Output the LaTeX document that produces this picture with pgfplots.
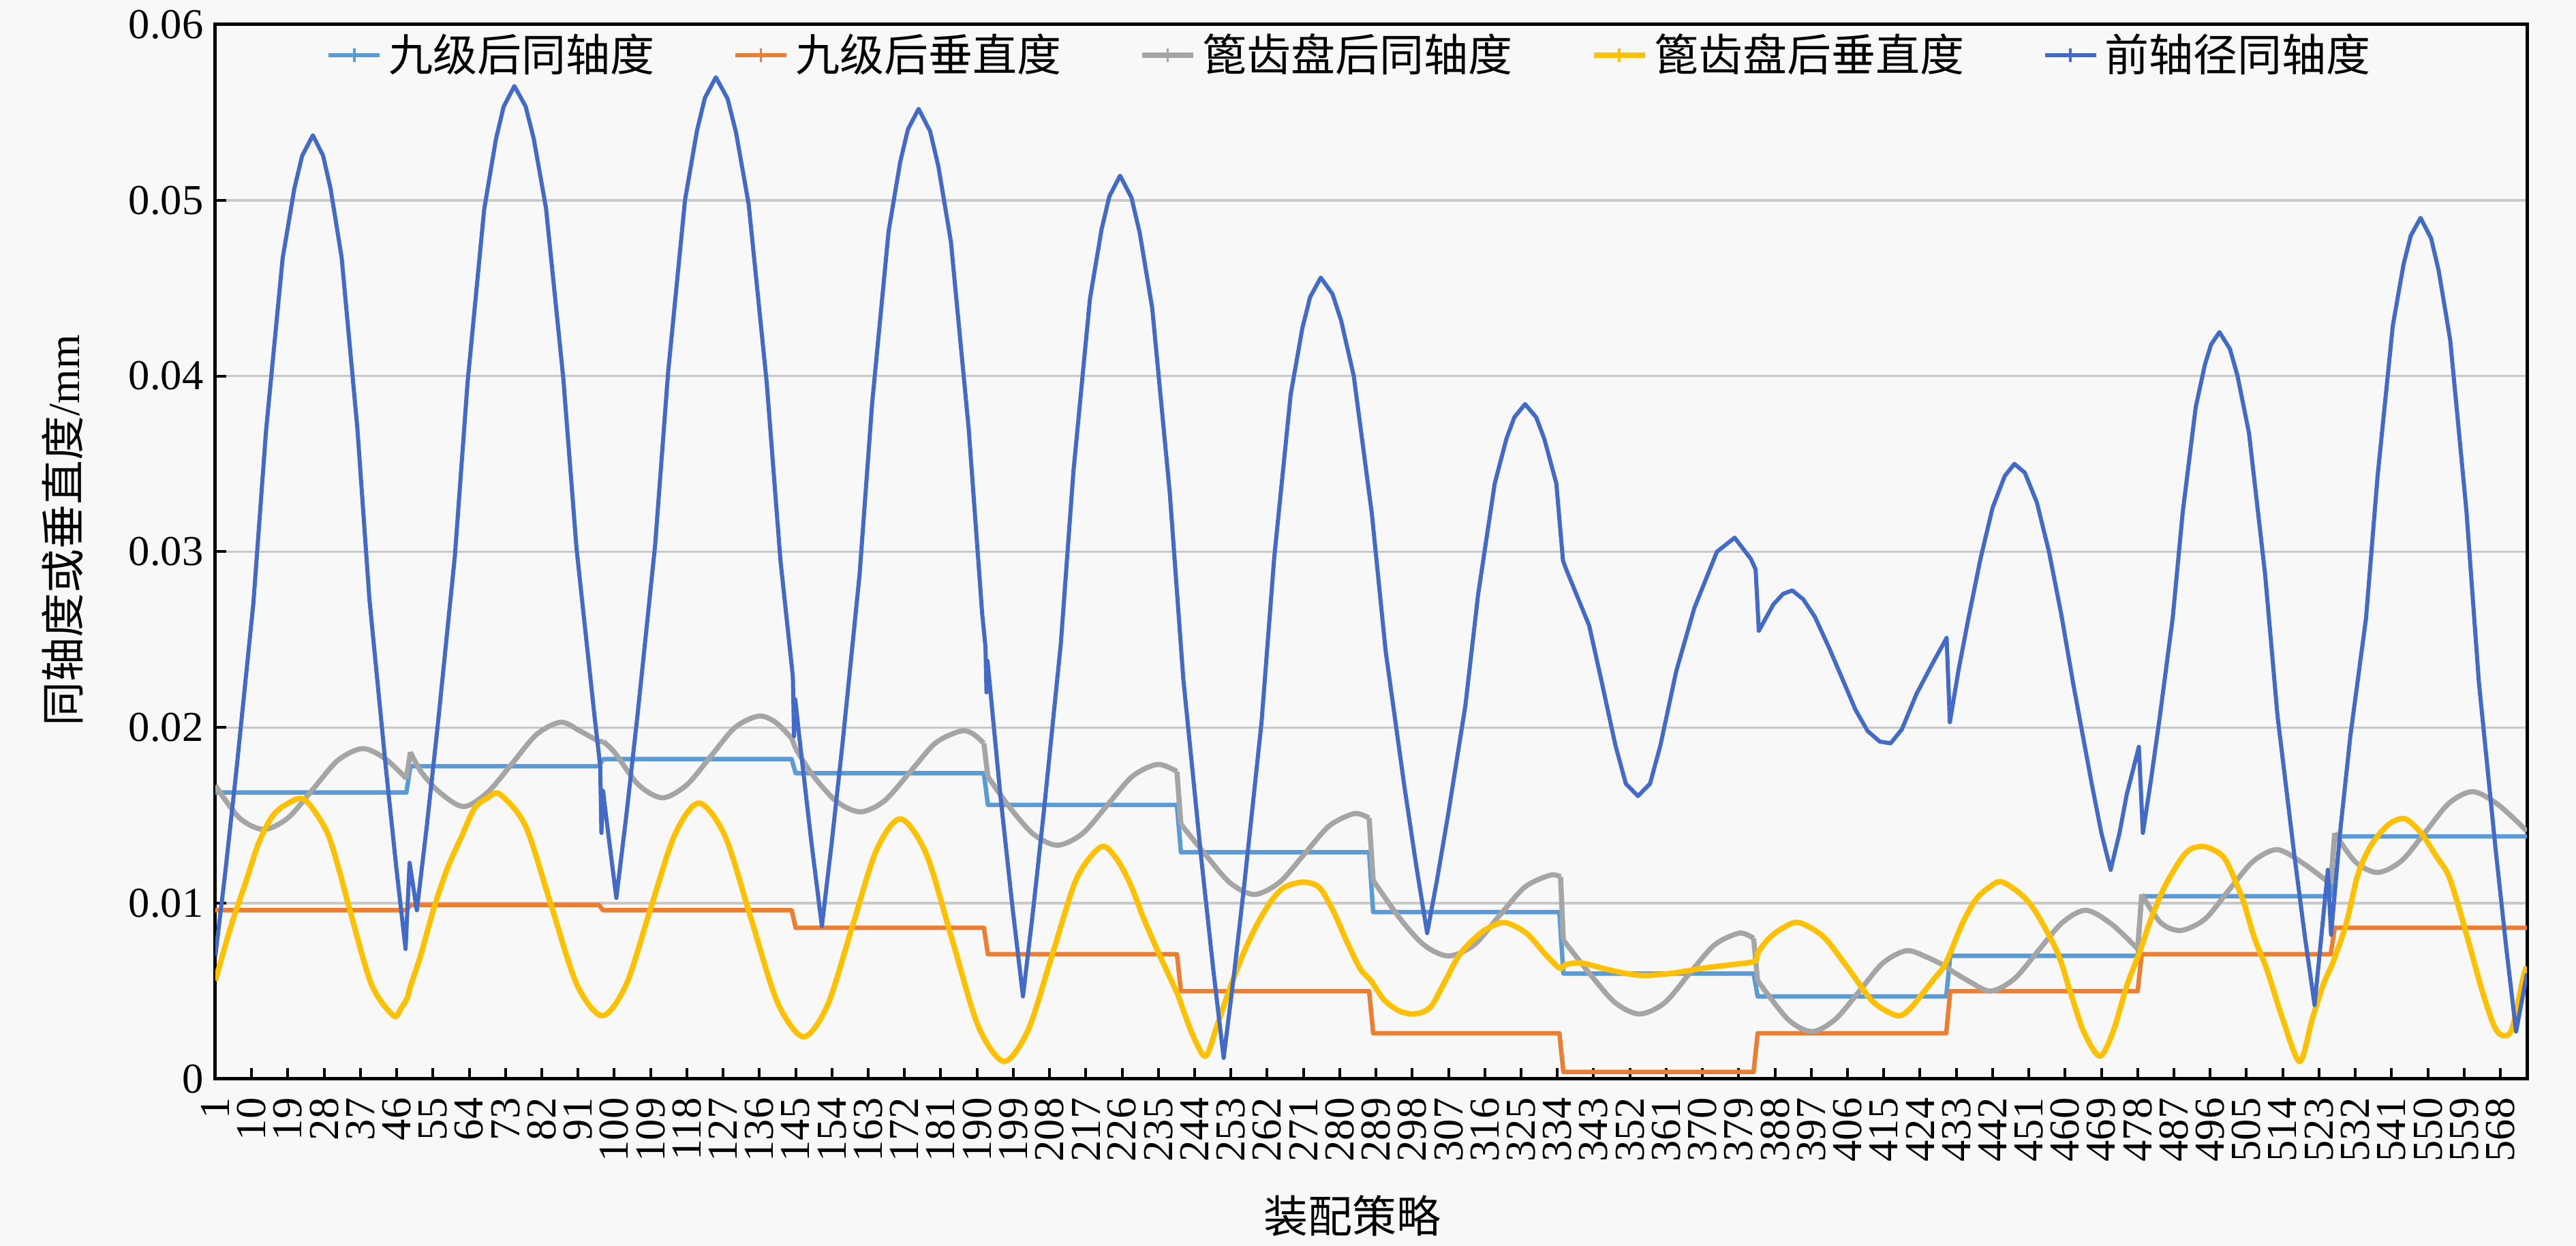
\documentclass[border=0pt]{standalone}
\usepackage{fontspec}
\setmainfont{Liberation Serif}
\newfontfamily\cjk{Noto Sans CJK SC}
\usepackage{pgfplots}
\pgfplotsset{compat=1.18}
\definecolor{bgc}{RGB}{248,248,248}
\definecolor{sLB}{RGB}{91,155,213}
\definecolor{sOR}{RGB}{237,125,49}
\definecolor{sGR}{RGB}{165,165,165}
\definecolor{sYE}{RGB}{255,192,0}
\definecolor{sDB}{RGB}{66,106,200}
\definecolor{gridc}{RGB}{200,200,200}
\begin{document}
\begin{tikzpicture}
\fill[bgc] (-63.2pt,-49pt) rectangle (692.8pt,316.6pt);
\begin{axis}[
  at={(0pt,0pt)}, anchor=south west,
  width=678.4pt, height=309.4pt, scale only axis,
  xmin=1, xmax=574.6, ymin=0, ymax=0.06,
  /pgf/number format/assume math mode=true,
  xtick={1,10,...,568},
  ytick={0,0.01,0.02,0.03,0.04,0.05,0.06},
  scaled y ticks=false,
  yticklabel style={/pgf/number format/fixed,/pgf/number format/precision=2,font=\fontsize{12.5}{14}\selectfont},
  xticklabel style={rotate=90,anchor=east,font=\fontsize{12.5}{14}\selectfont},
  xticklabel shift=2pt,
  tick pos=left, tick align=inside,
  major tick length=3.2pt,
  every tick/.style={black,line width=0.8pt},
  axis line style={black,line width=1pt},
  ymajorgrids, grid style={gridc,line width=0.7pt},
  xlabel={\cjk 装配策略},
  ylabel={{\cjk 同轴度或垂直度}/mm},
  label style={font=\fontsize{13}{15}\selectfont},
  xlabel style={at={(axis description cs:0.492,-0.13)},anchor=center},
  ylabel style={at={(axis description cs:-0.066,0.52)},anchor=center},
  legend columns=-1,
  legend style={at={(axis description cs:0.4917,0.971)},anchor=center,draw=none,fill=none,
    font=\fontsize{13}{15}\selectfont,
    /tikz/every even column/.append style={column sep=21pt}},
  legend image code/.code={\draw[#1] (0pt,0pt) -- (15pt,0pt); \draw[#1,line width=0.7pt] (7.5pt,-2pt) -- (7.5pt,2pt);},
  every axis plot/.append style={line join=round},
]
\addlegendimage{sLB,line width=1.3pt}\addlegendentry{\cjk 九级后同轴度}
\addlegendimage{sOR,line width=1.3pt}\addlegendentry{\cjk 九级后垂直度}
\addlegendimage{sGR,line width=1.5pt}\addlegendentry{\cjk 篦齿盘后同轴度}
\addlegendimage{sYE,line width=1.6pt}\addlegendentry{\cjk 篦齿盘后垂直度}
\addlegendimage{sDB,line width=1.2pt}\addlegendentry{\cjk 前轴径同轴度}

% 九级后同轴度
\addplot[sLB,line width=1.3pt,forget plot] coordinates {
(1,0.0163) (48.4,0.0163) (49.4,0.0178) (96.2,0.0178) (97.2,0.0182) (144,0.0182) (145,0.0174) (191.7,0.0174) (192.7,0.0156) (239.6,0.0156) (240.6,0.0129) (287.3,0.0129) (288.3,0.0095) (334.5,0.0095) (335.5,0.0060) (382.7,0.0060) (383.7,0.0047) (430.5,0.0047) (431.5,0.0070) (478,0.0070) (479,0.0104) (525.9,0.0104) (526.9,0.0138) (574.6,0.0138)};
% 九级后垂直度
\addplot[sOR,line width=1.3pt,forget plot] coordinates {
(1,0.0096) (48.4,0.0096) (49.4,0.0099) (96.2,0.0099) (97.2,0.0096) (144,0.0096) (145,0.0086) (191.7,0.0086) (192.7,0.0071) (239.6,0.0071) (240.6,0.0050) (287.3,0.0050) (288.3,0.0026) (334.5,0.0026) (335.5,0.0004) (382.7,0.0004) (383.7,0.0026) (430.5,0.0026) (431.5,0.0050) (478,0.0050) (479,0.0071) (525.9,0.0071) (526.9,0.0086) (574.6,0.0086)};
% 篦齿盘后同轴度
\addplot[sGR,line width=1.5pt,smooth,forget plot] coordinates {(1,0.0167) (7,0.01485) (13,0.0142) (19,0.01485) (25.25,0.0165) (31.4,0.01813) (37.5,0.0188) (43,0.01825) (48.4,0.0171)};
\addplot[sGR,line width=1.5pt,smooth,forget plot] coordinates {(49.4,0.0186) (52,0.0175) (56.5,0.01634) (62.6,0.0155) (68.6,0.01632) (74.65,0.01795) (80.7,0.0196) (86.7,0.0203) (91.5,0.0198) (96.2,0.0192)};
\addplot[sGR,line width=1.5pt,smooth,forget plot] coordinates {(97.2,0.0192) (100,0.0186) (106,0.01674) (112,0.0160) (118,0.01674) (123.9,0.01835) (129.9,0.01999) (135.8,0.02065) (140,0.0203) (144,0.0194)};
\addplot[sGR,line width=1.5pt,smooth,forget plot] coordinates {(145,0.0188) (149,0.01736) (155,0.01582) (161,0.0152) (167,0.01582) (173.5,0.0175) (179.75,0.01913) (186,0.0198) (189,0.01964) (191.7,0.0191)};
\addplot[sGR,line width=1.5pt,smooth,forget plot] coordinates {(192.7,0.0172) (198,0.01549) (204,0.01393) (210,0.0133) (216.2,0.01397) (222.4,0.0156) (228.6,0.01723) (234.8,0.0179) (239.6,0.0175)};
\addplot[sGR,line width=1.5pt,smooth,forget plot] coordinates {(240.6,0.0145) (246.9,0.0127) (252.9,0.01114) (258.9,0.0105) (265.1,0.0112) (271.25,0.0128) (277.4,0.0144) (283.6,0.0151) (287.3,0.01485)};
\addplot[sGR,line width=1.5pt,smooth,forget plot] coordinates {(288.3,0.0113) (295,0.00912) (301,0.00761) (307,0.0070) (313.3,0.00762) (319.65,0.0093) (326,0.01093) (332.3,0.0116) (334.8,0.0115)};
\addplot[sGR,line width=1.5pt,smooth,forget plot] coordinates {(335.5,0.0079) (342.4,0.00589) (348.4,0.00433) (354.4,0.0037) (360.6,0.00433) (366.8,0.0060) (373,0.00763) (379.2,0.0083) (382.7,0.0080)};
\addplot[sGR,line width=1.5pt,smooth,forget plot] coordinates {(383.7,0.0056) (391.2,0.0034) (397.2,0.0027) (403,0.0034) (408.95,0.0050) (414.8,0.0066) (420.7,0.0073) (426,0.0069) (430.5,0.0064)};
\addplot[sGR,line width=1.5pt,smooth,forget plot] coordinates {(431.5,0.0062) (436,0.00558) (441.5,0.0050) (447.4,0.0057) (453.35,0.0073) (459.3,0.0089) (465.2,0.0096) (471.6,0.0088) (478,0.0074)};
\addplot[sGR,line width=1.5pt,smooth,forget plot] coordinates {(479,0.0105) (483.7,0.0089) (488.7,0.00845) (494.7,0.0091) (500.65,0.01075) (506.6,0.01237) (512.6,0.01305) (519,0.01228) (525.9,0.0111)};
\addplot[sGR,line width=1.5pt,smooth,forget plot] coordinates {(526.9,0.0140) (532,0.01236) (537.6,0.01175) (543.5,0.01242) (549.4,0.01405) (555.3,0.0157) (561.2,0.01635) (567.5,0.0156) (574.6,0.0141)};
\addplot[sGR,line width=1.5pt,unbounded coords=jump,forget plot] coordinates {
(48.4,0.0171) (49.4,0.0186) (49.6,nan) (96.2,0.0192) (97.2,0.0192) (97.4,nan) (144,0.0194) (145,0.0188) (145.2,nan)
(191.7,0.0191) (192.7,0.0172) (192.9,nan) (239.6,0.0175) (240.6,0.0145) (240.8,nan) (287.3,0.01485) (288.3,0.0113) (288.5,nan)
(334.8,0.0115) (335.5,0.0079) (335.7,nan) (382.7,0.0080) (383.7,0.0056) (383.9,nan) (430.5,0.0064) (431.5,0.0062) (431.7,nan)
(478,0.0074) (479,0.0105) (479.2,nan) (525.9,0.0111) (526.9,0.0140)};
% 篦齿盘后垂直度
\addplot[sYE,line width=1.6pt,smooth,forget plot] coordinates {
(1,0.0056) (5,0.0088) (8.4,0.0111) (11.7,0.0134) (15,0.0149) (18.4,0.0156) (23.1,0.0159) (28.6,0.0141) (31.8,0.0118) (34.15,0.0098) (39.7,0.0054) (45.2,0.0036) (47,0.0040) (48.6,0.0046) (49.3,0.0052) (51.9,0.0070) (55.2,0.0097) (58.6,0.0120) (61.9,0.0137) (65.3,0.0154) (68.6,0.0160) (71.6,0.0162)
(77.95,0.0144) (84.3,0.0099) (90.65,0.0054) (97,0.0036) (103,0.0054) (109,0.0097) (115,0.0139) (121,0.0157) (127.5,0.0138) (133.95,0.0091) (140.4,0.0044) (146.9,0.0024) (152.9,0.0042) (158.95,0.0086) (165,0.0130) (171,0.0148) (177.4,0.0128) (183.85,0.0079) (190.3,0.0030) (196.7,0.0010)
(202.7,0.0028) (208.7,0.0071) (214.7,0.0114) (220.7,0.0132) (224.4,0.0126) (228,0.0111) (231.4,0.0091) (234.8,0.0073) (237.4,0.0060) (239.8,0.0048) (241.5,0.0037) (244.1,0.0022) (246.8,0.0013) (249.5,0.0030) (252.8,0.0052) (256.2,0.0072) (259.5,0.0088) (262.9,0.0101) (266.2,0.0109) (270.9,0.0112)
(274.9,0.0109) (278.3,0.0096) (281.6,0.0079) (285,0.0063) (287.7,0.0056) (291,0.0045) (294.5,0.0039) (297.7,0.0037) (300.5,0.0038) (302.9,0.0042) (306,0.0055) (309.5,0.0070) (313,0.0079) (316.2,0.0085) (320.9,0.0089) (326.3,0.0083) (331,0.0071) (334.6,0.0063)
(336,0.0065) (340,0.0066) (347,0.0062) (354.4,0.0059) (362,0.0060) (370,0.0063) (377,0.0065) (383,0.0067) (383.8,0.0072) (386.5,0.0080) (390,0.0086) (393.9,0.0089) (400,0.0081) (406.15,0.0063) (412.3,0.0044) (418.4,0.0036) (421.5,0.0040) (424.4,0.0048) (427.5,0.0057) (430.4,0.0066)
(434.4,0.0088) (437.8,0.0102) (441.1,0.0109) (444.5,0.0112) (451.2,0.0100) (457.9,0.0073) (461.2,0.0050) (464.6,0.0027) (468.6,0.0013) (471.9,0.0027) (475.3,0.0053) (478.6,0.0073) (481.3,0.0091) (484.6,0.0109) (488.7,0.0125) (491.3,0.0131) (495,0.0132) (499.4,0.0126) (502.7,0.0110) (504.4,0.0100) (507,0.0080) (510.1,0.0062)
(514,0.0034) (518.2,0.0010) (521.3,0.0034) (524.1,0.0054) (526.4,0.0066) (529.7,0.0088) (532.6,0.0116) (535.4,0.0131) (538.2,0.0140) (541,0.0146) (544.4,0.0148) (548.3,0.0140) (552.3,0.0126) (555.1,0.0116) (557.9,0.0096) (560.7,0.0073) (563.5,0.0050) (566.3,0.0031) (568.3,0.0025) (570.8,0.0028) (573.6,0.0057) (574.6,0.0064)};
% 前轴径同轴度
\addplot[sDB,line width=1.2pt,forget plot] coordinates {
(1,0.0070) (3.42,0.01167) (6.2,0.01751) (10.44,0.02708) (13.58,0.03689) (17.7,0.0467) (20.6,0.05066) (22.54,0.05253) (25.2,0.0537) (27.73,0.05254) (29.57,0.05069) (32.33,0.04676) (36.24,0.03703) (39.23,0.02731) (43.26,0.01782) (45.9,0.01203) (48.2,0.0074)
(49.2,0.0123) (51.0,0.0096)
(53.42,0.01429) (56.2,0.02015) (60.44,0.02977) (63.58,0.03962) (67.7,0.04947) (70.6,0.05345) (72.54,0.05533) (75.2,0.0565)
(77.98,0.05535) (80.01,0.0535) (83.04,0.04957) (87.34,0.03987) (90.63,0.03017) (95.06,0.0207) (96.5,0.0178) (96.8,0.0140) (97.2,0.0164) (97.97,0.01492) (100.5,0.0103)
(102.97,0.01497) (105.81,0.02081) (110.13,0.03038) (113.34,0.04019) (117.54,0.0500) (120.51,0.05396) (122.48,0.05583) (125.2,0.0570)
(128.09,0.05579) (130.2,0.05386) (133.35,0.04976) (137.82,0.03961) (141.24,0.02947) (144.3,0.0229) (144.6,0.0195) (144.9,0.0216) (145.85,0.01957) (148.87,0.01353) (151.5,0.0087)
(153.9,0.01335) (156.66,0.01916) (160.86,0.0287) (163.98,0.03846) (168.06,0.04823) (170.94,0.05218) (172.86,0.05404) (175.5,0.0552)
(178.35,0.05394) (180.42,0.05192) (183.53,0.04763) (187.93,0.03702) (191.3,0.02642) (192.1,0.0246) (192.35,0.0220) (192.6,0.0238) (195.83,0.01606) (198.81,0.00975) (201.4,0.0047)
(203.81,0.00937) (206.58,0.01521) (210.8,0.02478) (213.93,0.03459) (218.03,0.0444) (220.92,0.04836) (222.85,0.05023) (225.5,0.0514)
(228.33,0.05015) (230.38,0.04814) (233.47,0.04387) (237.84,0.03333) (241.18,0.02279) (245.67,0.0125) (248.63,0.00622) (251.2,0.0012)
(253.61,0.00564) (256.38,0.01119) (260.6,0.02029) (263.73,0.02962) (267.83,0.03894) (270.72,0.04271) (272.65,0.04449) (275.3,0.0456)
(278.2,0.04467) (280.32,0.04318) (283.48,0.04001) (287.97,0.03217) (291.4,0.02434) (296.02,0.01669) (299.06,0.01203) (301.7,0.0083)
(304.13,0.01131) (306.92,0.01507) (311.18,0.02124) (314.34,0.02756) (318.47,0.03389) (321.38,0.03644) (323.33,0.03765) (326,0.0384)
(328.75,0.03765) (330.75,0.03644) (333.75,0.03389) (335.4,0.0295)
(336.2,0.0290) (341.9,0.0258) (345,0.0226) (348.4,0.0190) (351,0.0168) (354,0.0161) (357,0.0168) (359.6,0.0190) (363.5,0.0232) (368,0.0268) (373.6,0.0300) (378,0.0308) (382,0.0296) (383.2,0.0290)
(384,0.0255) (387.6,0.0270) (390,0.0276) (392.3,0.0278) (395,0.0273) (397.9,0.0263) (401.5,0.0245) (405.4,0.0224) (408,0.0210) (411,0.0198) (414,0.0192) (416.7,0.0191) (419.5,0.0199) (423.1,0.0219) (427,0.0236) (430.6,0.0251)
(431.4,0.0203) (433.5,0.0232) (436,0.0262) (439,0.0296) (442,0.0325) (445,0.0343) (447.4,0.0350) (450,0.0345) (453,0.0328) (456,0.0300) (459,0.0265) (462,0.0225) (466.6,0.0168) (469,0.0140) (471.3,0.0119) (473.5,0.0140) (475.3,0.0162) (478.3,0.0189)
(479.3,0.0140)
(481.2,0.01685) (483.38,0.02041) (486.71,0.02626) (489.18,0.03224) (492.41,0.03823) (494.69,0.04065) (496.21,0.04179) (498.3,0.0425)
(500.9,0.04154) (502.78,0.04001) (505.62,0.03676) (509.63,0.02871) (512.7,0.02067) (516.83,0.01282) (519.54,0.00803) (521.9,0.0042)
(525.2,0.0119) (526.0,0.0082)
(528.22,0.0140) (530.77,0.0195) (534.66,0.0262) (537.54,0.03431) (541.32,0.04288) (543.98,0.04635) (545.76,0.04798) (548.2,0.0490)
(550.81,0.04784) (552.7,0.04599) (555.55,0.04206) (559.58,0.03233) (562.66,0.02261) (566.8,0.01312) (569.53,0.00733) (571.9,0.0027) (574.6,0.0060)};
\end{axis}
\pgfresetboundingbox
\path[use as bounding box] (-63.2pt,-49pt) rectangle (692.8pt,316.6pt);
\end{tikzpicture}
\end{document}
